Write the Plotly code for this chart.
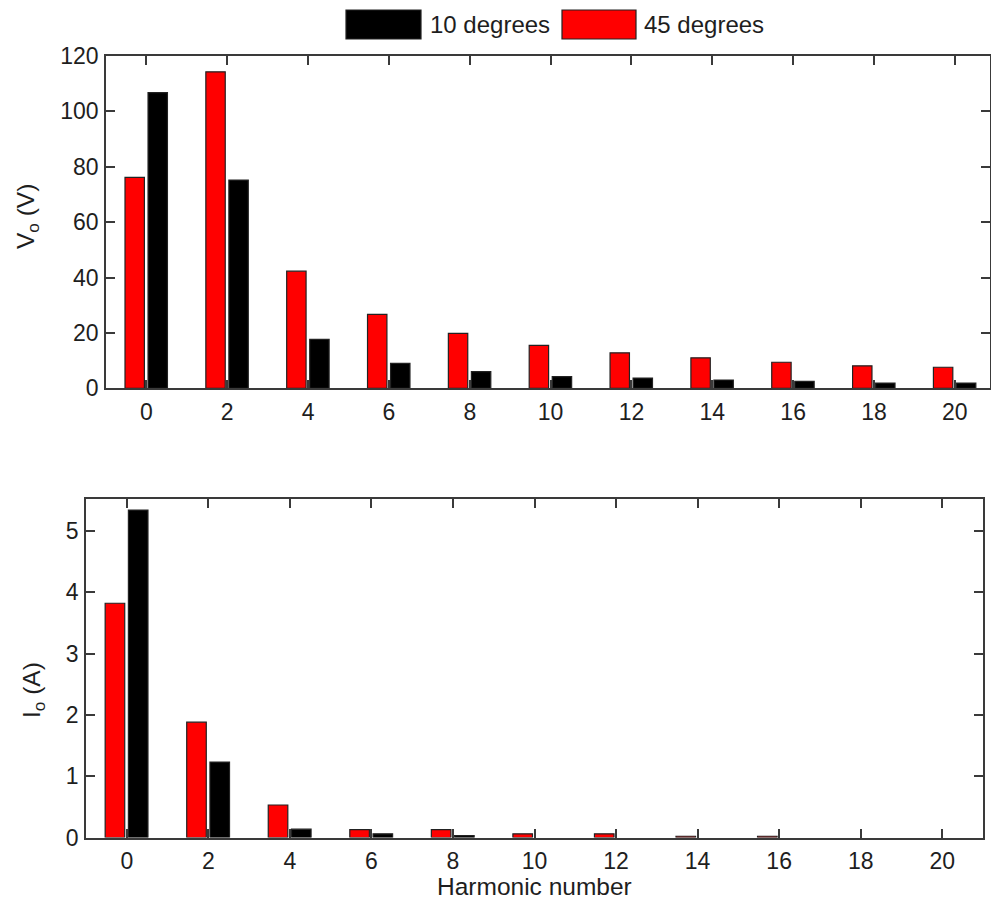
import plotly.graph_objects as go

# Harmonic spectrum of output voltage and current for two firing angles
harmonics = [0, 2, 4, 6, 8, 10, 12, 14, 16, 18, 20]
series_names = ["10 degrees", "45 degrees"]

vo_10deg = [106.8, 75.2, 17.7, 9.0, 6.0, 4.2, 3.7, 3.0, 2.5, 1.9, 1.9]
vo_45deg = [76.2, 114.3, 42.3, 26.7, 19.8, 15.5, 12.8, 11.0, 9.4, 8.1, 7.6]

io_10deg = [5.34, 1.23, 0.135, 0.06, 0.03, 0.0, 0.0, 0.0, 0.0, 0.0, 0.0]
io_45deg = [3.82, 1.88, 0.53, 0.13, 0.13, 0.06, 0.06, 0.02, 0.02, 0.0, 0.0]

vo_ticks = [0, 20, 40, 60, 80, 100, 120]
io_ticks = [0, 1, 2, 3, 4, 5]

W, H = 991, 901
FONT = "Liberation Sans, Arial, Helvetica, sans-serif"
TXT = "#1e1e1e"
AX = "#3a3a3a"
RED = "#ff0000"
BLACK = "#000000"
EDGE = "#222222"


def px(x):
    return x / W


def py(y):
    return 1 - y / H


def edge_widths(vals):
    # no outline on empty bars so zero harmonics leave no trace
    return [1.2 if v > 0 else 0 for v in vals]


fig = go.Figure()

bar_w = 0.48
for xa, ya, red_vals, blk_vals in [("x", "y", vo_45deg, vo_10deg),
                                   ("x2", "y2", io_45deg, io_10deg)]:
    fig.add_trace(go.Bar(
        x=harmonics, y=red_vals, name=series_names[1],
        offset=-0.53, width=bar_w,
        marker=dict(color=RED, line=dict(color=EDGE, width=edge_widths(red_vals))),
        xaxis=xa, yaxis=ya, showlegend=False,
    ))
    fig.add_trace(go.Bar(
        x=harmonics, y=blk_vals, name=series_names[0],
        offset=0.04, width=bar_w,
        marker=dict(color=BLACK, line=dict(color=EDGE, width=edge_widths(blk_vals))),
        xaxis=xa, yaxis=ya, showlegend=False,
    ))

axis_common = dict(
    showline=True, linecolor=AX, linewidth=1.5, mirror="ticks",
    ticks="inside", ticklen=9, tickwidth=1.5, tickcolor=AX,
    showgrid=False, zeroline=False, automargin=False,
    tickfont=dict(family=FONT, size=23, color=TXT),
)

fig.update_layout(
    width=W, height=H,
    margin=dict(l=0, r=0, t=0, b=0, pad=0, autoexpand=False),
    paper_bgcolor="white", plot_bgcolor="white",
    barmode="overlay",
    xaxis=dict(domain=[px(106), px(990)], range=[-1, 20.87],
               tickvals=harmonics, anchor="y", ticklabelstandoff=2, **axis_common),
    yaxis=dict(domain=[py(388.3), py(56)], range=[0, 120],
               tickvals=vo_ticks, anchor="x", ticklabelstandoff=1, **axis_common),
    xaxis2=dict(domain=[px(86), px(983)], range=[-1, 21],
                tickvals=harmonics, anchor="y2", ticklabelstandoff=2, **axis_common),
    yaxis2=dict(domain=[py(837.5), py(499)], range=[0, 5.52],
                tickvals=io_ticks, anchor="x2", ticklabelstandoff=1, **axis_common),
)

# Axis titles
label_font = dict(family=FONT, size=24.5, color=TXT)
fig.add_annotation(text="V<sub>o</sub> (V)", x=px(27), y=py(217), xref="paper", yref="paper",
                   textangle=-90, showarrow=False, font=label_font,
                   xanchor="center", yanchor="middle")
fig.add_annotation(text="I<sub>o</sub> (A)", x=px(33), y=py(690), xref="paper", yref="paper",
                   textangle=-90, showarrow=False, font=label_font,
                   xanchor="center", yanchor="middle")
fig.add_annotation(text="Harmonic number", x=px(534.5), y=py(886), xref="paper", yref="paper",
                   showarrow=False, font=label_font, xanchor="center", yanchor="middle")

# Legend with wide colour swatches
legend_items = [(series_names[0], BLACK, 346, 421, 428),
                (series_names[1], RED, 562, 636, 642)]
for name, colour, x0, x1, tx in legend_items:
    fig.add_shape(type="rect", xref="paper", yref="paper",
                  x0=px(x0), x1=px(x1), y0=py(39), y1=py(10),
                  fillcolor=colour, line=dict(color=EDGE, width=1.2))
    fig.add_annotation(text=name, x=px(tx), y=py(25), xref="paper", yref="paper",
                       showarrow=False, xanchor="left", yanchor="middle",
                       font=dict(family=FONT, size=24, color=TXT))

fig.write_html("out.html")
